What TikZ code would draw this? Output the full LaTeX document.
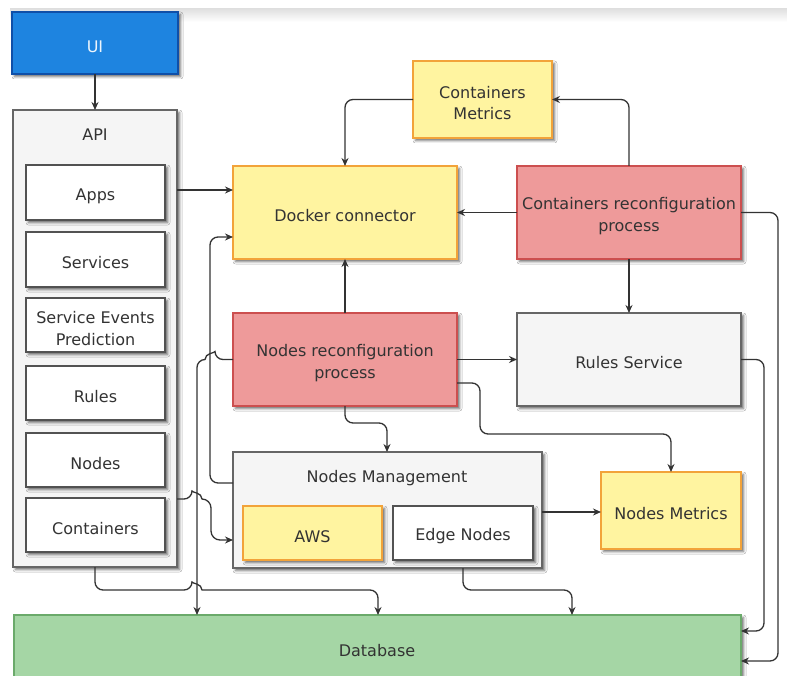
\documentclass[tikz,border=0pt]{standalone}
\usepackage{fontspec}
\setmainfont{DejaVu Sans}
\usetikzlibrary{arrows.meta,shadows.blur,calc}

\definecolor{uiFill}{HTML}{1E84E0}
\definecolor{uiDraw}{HTML}{0F4FA8}
\definecolor{grayFill}{HTML}{F5F5F5}
\definecolor{grayDraw}{HTML}{666666}
\definecolor{yelFill}{HTML}{FFF4A0}
\definecolor{yelDraw}{HTML}{F2A33A}
\definecolor{redFill}{HTML}{EE9A9A}
\definecolor{redDraw}{HTML}{CC4F4F}
\definecolor{grnFill}{HTML}{A5D6A5}
\definecolor{grnDraw}{HTML}{6BAA6B}
\definecolor{txt}{HTML}{333333}
\definecolor{wire}{HTML}{333333}

\tikzset{
  box/.style={draw, line width=1.3pt, inner sep=0pt, outer sep=0pt,
    anchor=north west,
    blur shadow={shadow xshift=2.5pt, shadow yshift=-2.5pt,
      shadow blur radius=2.5pt, shadow opacity=60}},
  % free-standing container titles, placed directly
  title/.style={text=txt, align=center, inner sep=0pt,
    font=\fontsize{16}{21.5}\selectfont},
  % box captions sit slightly below the geometric centre
  tx/.style={title, yshift=-3.5pt},
  uibox/.style={box, fill=uiFill, draw=uiDraw},
  graybox/.style={box, fill=grayFill, draw=grayDraw},
  whitebox/.style={box, fill=white, draw=grayDraw!80!black},
  yelbox/.style={box, fill=yelFill, draw=yelDraw},
  redbox/.style={box, fill=redFill, draw=redDraw},
  grnbox/.style={box, fill=grnFill, draw=grnDraw},
  link/.style={draw=wire, line width=1.3pt, rounded corners=8pt,
    -{Stealth[length=8pt, width=7pt]}},
}

\begin{document}
\begin{tikzpicture}[x=1pt, y=-1pt]
  % canvas
  \fill[white] (0,0) rectangle (787,676);
  \useasboundingbox (0,0) rectangle (787,676);
  \shade[top color=black!12, bottom color=white] (10,9) rectangle (787,22);

  % boxes
  \node[uibox, minimum width=166pt, minimum height=62pt,
    label={[tx, text=white!92!uiFill]center:UI}] (ui) at (12,12) {};

  \node[graybox, minimum width=164pt, minimum height=457pt] (api) at (13,110) {};
  \node[title] (apilbl) at (95,134.5) {API};
  \node[whitebox, minimum width=139pt, minimum height=55pt,
    label={[tx]center:Apps}] (apps) at (26,165) {};
  \node[whitebox, minimum width=139pt, minimum height=55pt,
    label={[tx]center:Services}] (services) at (26,232) {};
  \node[whitebox, minimum width=139pt, minimum height=54pt,
    label={[tx]center:{Service Events\\Prediction}}] (sep) at (26,298) {};
  \node[whitebox, minimum width=139pt, minimum height=54pt,
    label={[tx]center:Rules}] (rules) at (26,366) {};
  \node[whitebox, minimum width=139pt, minimum height=54pt,
    label={[tx]center:Nodes}] (nodes) at (26,433) {};
  \node[whitebox, minimum width=139pt, minimum height=54pt,
    label={[tx]center:Containers}] (conts) at (26,498) {};

  \node[yelbox, minimum width=224pt, minimum height=93pt,
    label={[tx]center:Docker connector}] (dock) at (233,166) {};
  \node[yelbox, minimum width=139pt, minimum height=77pt,
    label={[tx]center:{Containers\\Metrics}}] (cm) at (413,61) {};
  \node[redbox, minimum width=224pt, minimum height=93pt,
    label={[tx]center:{Containers reconfiguration\\process}}] (crp) at (517,166) {};
  \node[redbox, minimum width=224pt, minimum height=93pt,
    label={[tx]center:{Nodes reconfiguration\\process}}] (nrp) at (233,313) {};
  \node[graybox, minimum width=224pt, minimum height=93pt,
    label={[tx]center:Rules Service}] (rs) at (517,313) {};

  \node[graybox, minimum width=309pt, minimum height=116pt] (nm) at (233,452) {};
  \node[title] (nmlbl) at (387,478) {Nodes Management};
  \node[yelbox, minimum width=139pt, minimum height=54pt,
    label={[tx]center:AWS}] (aws) at (243,506) {};
  \node[whitebox, minimum width=140pt, minimum height=54pt,
    label={[tx]center:Edge Nodes}] (edge) at (393,506) {};
  \node[yelbox, minimum width=140pt, minimum height=77pt,
    label={[tx]center:Nodes Metrics}] (nmet) at (601,472) {};

  \node[grnbox, minimum width=727pt, minimum height=70pt] (db) at (14,615) {};
  \node[title] (dblbl) at (377,650.5) {Database};

  % connectors
  \draw[link] (ui.south) -- (api.north);
  \draw[link] (api.east |- 0,190) -- (dock.west |- 0,190);
  \draw[link] (cm.west) -| (dock.north);
  \draw[link] (crp.north) |- (cm.east);
  \draw[link] (crp.west) -- (dock.east);
  \draw[link] (crp.east) -- (778,212.5) -- (778,661) -- (db.east |- 0,661);
  \draw[link] (crp.south) -- (rs.north);
  \draw[link] (rs.east) -- (764,359.5) -- (764,631) -- (db.east |- 0,631);
  \draw[link] (nrp.north) -- (dock.south);
  \draw[link] (nrp.east) -- (rs.west);
  \draw[link] (nrp.east |- 0,383) -- (480,383) -- (480,434) -- (671,434) -- (nmet.north);
  \draw[link] (nrp.south) -- (345,423) -- (387,423) -- (nm.north -| 387,0);
  \draw[link] (nm.west |- 0,483) -- (210,483) -- (210,237) -- (dock.west |- 0,237);
  \draw[link] (nrp.west) -- (215,359.5) [sharp corners]
    .. controls (215,353) and (205,353) .. (205,359.5) [rounded corners=8pt]
    -- (197,359.5) -- (db.north -| 197,0);
  \draw[link] (api.east |- 0,499) -- (192,499) [sharp corners]
    .. controls (192,492.5) and (202,492.5) .. (202,499) [rounded corners=9pt]
    -- (211,499) -- (211,540) -- (nm.west |- 0,540);
  \draw[link] (api.south) -- (95,590) -- (192,590) [sharp corners]
    .. controls (192,583.5) and (202,583.5) .. (202,590) [rounded corners=8pt]
    -- (378,590) -- (db.north -| 378,0);
  \draw[link] (nm.south -| 463,0) -- (463,590) -- (572,590) -- (db.north -| 572,0);
  \draw[link] (nm.east |- 0,512) -- (nmet.west |- 0,512);
\end{tikzpicture}
\end{document}
